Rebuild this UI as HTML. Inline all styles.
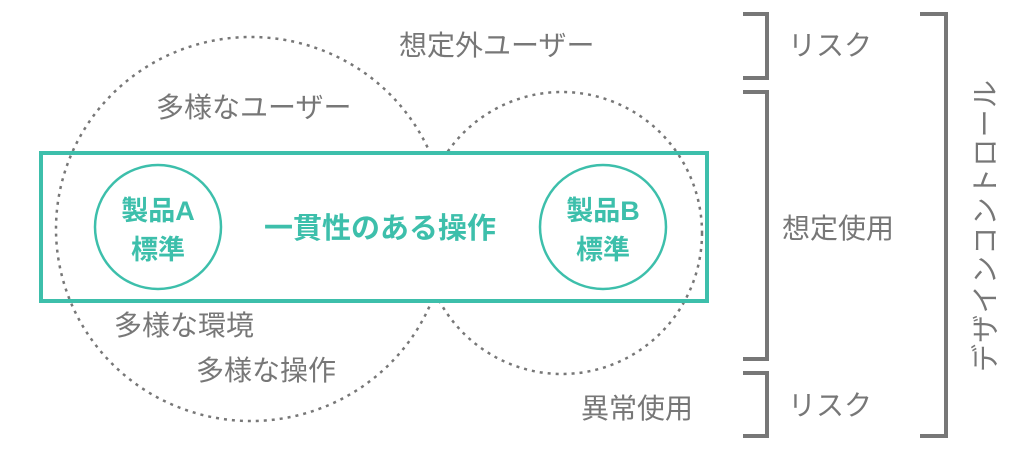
<!DOCTYPE html>
<html><head><meta charset="utf-8"><style>
html,body{margin:0;padding:0;background:#fff;}
svg{display:block}
text{font-family:"Liberation Sans","Noto Sans CJK JP",sans-serif;}
.g{fill:#777;font-size:28px;}
.t{fill:#3dbfab;font-weight:bold;}
</style></head><body>
<svg width="1024" height="458" viewBox="0 0 1024 458" xmlns="http://www.w3.org/2000/svg">
<g fill="none" stroke="#777" stroke-width="2.5" stroke-dasharray="3 5">
<ellipse cx="251" cy="229" rx="195" ry="192"/>
<ellipse cx="562" cy="233" rx="140" ry="141"/>
</g>
<rect x="240" y="155" width="300" height="144" fill="#fff"/>
<rect x="41" y="153" width="666" height="148" fill="none" stroke="#3dbfab" stroke-width="4"/>
<g fill="#fff" stroke="#3dbfab" stroke-width="2.5">
<ellipse cx="158" cy="227" rx="63" ry="62"/>
<ellipse cx="603" cy="227" rx="63" ry="62"/>
</g>
<g class="t" font-size="27" text-anchor="middle">
<text x="158" y="220">製品A</text>
<text x="158" y="259">標準</text>
<text x="603" y="220">製品B</text>
<text x="603" y="259">標準</text>
<text x="380" y="238" font-size="29">一貫性のある操作</text>
</g>
<text class="g" x="399" y="55">想定外ユーザー</text>
<text class="g" x="156" y="117">多様なユーザー</text>
<text class="g" x="114" y="335">多様な環境</text>
<text class="g" x="196" y="380">多様な操作</text>
<text class="g" x="581" y="418">異常使用</text>
<text class="g" x="788" y="55">リスク</text>
<text class="g" x="782" y="238">想定使用</text>
<text class="g" x="788" y="415">リスク</text>
<text class="g" font-size="27" transform="translate(995,372) rotate(-90)" textLength="292">デザインコントロール</text>
<g fill="none" stroke="#777" stroke-width="4">
<polyline points="743,14 767,14 767,78 743,78"/>
<polyline points="743,92 767,92 767,359 743,359"/>
<polyline points="743,373 767,373 767,436 743,436"/>
<polyline points="920,14 946,14 946,436 920,436"/>
</g>
</svg>
</body></html>
